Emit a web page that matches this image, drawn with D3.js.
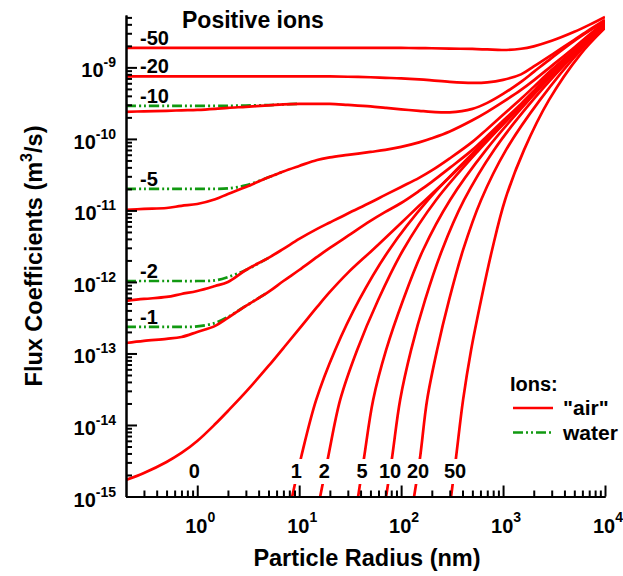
<!DOCTYPE html>
<html>
<head>
<meta charset="utf-8">
<script src="https://cdn.jsdelivr.net/npm/d3@7"></script>
<style>
  body { margin: 0; background: #fff; }
  svg { font-family: Arial, "Liberation Sans", sans-serif; font-weight: bold; }
  .air { fill: none; stroke: #ff0000; stroke-width: 2.7px; }
  .water { fill: none; stroke: #119911; stroke-width: 2.7px; stroke-dasharray: 10,3,2,3,2,3; }
  .axis path, .axis line { stroke: #000; stroke-width: 2px; }
  .axis text { display: none; }
</style>
</head>
<body>
<script>
// particle radius grid (nm) used by the negative / neutral curves
var radius = [0.2,0.3,0.5,0.7,1,1.5,2,3,5,7,10,15,20,30,50,70,100,150,200,300,500,700,1000,1500,2000,3000,5000,7000,10000];

// "air" ions, flux coefficient (m3/s) on the radius grid
var airNeg50 = [1.87e-9,1.87e-9,1.87e-9,1.87e-9,1.87e-9,1.87e-9,1.87e-9,1.87e-9,1.87e-9,1.87e-9,1.87e-9,1.87e-9,1.87e-9,1.87e-9,1.87e-9,1.87e-9,1.87e-9,
  1.86e-9,1.85e-9,1.83e-9,1.81e-9,1.78e-9,1.75e-9,1.82e-9,1.97e-9,2.35e-9,3.14e-9,3.93e-9,5.08e-9];
var airNeg20 = [7.48e-10,7.48e-10,7.48e-10,7.48e-10,7.48e-10,7.48e-10,7.48e-10,7.48e-10,7.48e-10,7.48e-10,7.48e-10,7.48e-10,7.48e-10,7.40e-10,
  7.28e-10,7.15e-10,7.02e-10,6.79e-10,6.58e-10,6.27e-10,6.07e-10,6.17e-10,6.68e-10,7.98e-10,1.03e-9,1.50e-9,2.43e-9,3.34e-9,4.61e-9];
var airNeg10 = [2.39e-10,2.43e-10,2.47e-10,2.51e-10,2.54e-10,2.63e-10,2.72e-10,2.81e-10,2.94e-10,3.04e-10,3.09e-10,3.09e-10,3.09e-10,2.99e-10,
  2.85e-10,2.72e-10,2.59e-10,2.47e-10,2.39e-10,2.35e-10,2.63e-10,3.19e-10,4.26e-10,6.27e-10,8.65e-10,1.36e-9,2.35e-9,3.24e-9,4.47e-9];
var airNeg5 = [1.02e-11,1.05e-11,1.08e-11,1.16e-11,1.23e-11,1.43e-11,1.70e-11,2.13e-11,2.90e-11,3.51e-11,4.19e-11,5.08e-11,5.51e-11,5.97e-11,
  6.58e-11,7.02e-11,7.73e-11,8.93e-11,1.02e-10,1.27e-10,1.82e-10,2.39e-10,3.29e-10,4.84e-10,6.58e-10,1.05e-9,1.90e-9,2.85e-9,4.33e-9];
var airNeg2 = [5.42e-13,5.78e-13,6.17e-13,6.79e-13,7.48e-13,8.79e-13,9.98e-13,1.47e-12,2.17e-12,2.90e-12,3.99e-12,5.51e-12,6.79e-12,9.08e-12,
  1.29e-11,1.65e-11,2.13e-11,2.85e-11,3.62e-11,5.34e-11,9.08e-11,1.38e-10,2.17e-10,3.63e-10,5.34e-10,9.23e-10,1.76e-9,2.67e-9,4.19e-9];
var airNeg1 = [1.40e-13,1.50e-13,1.60e-13,1.70e-13,2.0e-13,2.43e-13,3.14e-13,4.62e-13,7.25e-13,1.03e-12,1.47e-12,2.24e-12,2.99e-12,4.40e-12,
  7.13e-12,9.53e-12,1.27e-11,1.87e-11,2.51e-11,3.93e-11,7.02e-11,1.10e-10,1.79e-10,3.09e-10,4.69e-10,8.65e-10,1.70e-9,2.59e-9,4.19e-9];
var airZero = [1.70e-15,2.13e-15,3.04e-15,4.06e-15,5.97e-15,1.03e-14,1.57e-14,2.90e-14,6.68e-14,1.19e-13,2.20e-13,4.47e-13,7.25e-13,1.34e-12,
  2.63e-12,4.12e-12,6.68e-12,1.16e-11,1.70e-11,2.94e-11,5.97e-11,9.68e-11,1.62e-10,2.90e-10,4.40e-10,8.11e-10,1.65e-9,2.50e-9,4.06e-9];

// positive charges: [radius, flux] pairs, starting where they leave the 1e-15 floor
var airPos1 = [[8.54,1e-15],[10.46,3.57e-15],[14.68,2.24e-14],[22.54,1.12e-13],[38.75,5.60e-13],[76.29,2.80e-12],[183.9,1.40e-11],[543.6,7.02e-11],[1681,3.51e-10],[5196,1.76e-9],[10000,4.06e-9]];
var airPos2 = [[16.07,1e-15],[19.24,3.57e-15],[25.23,2.24e-14],[37.04,1.12e-13],[59.50,5.60e-13],[104.6,2.80e-12],[220.3,1.40e-11],[581.9,7.02e-11],[1719,3.51e-10],[5314,1.76e-9],[10000,3.99e-9]];
var airPos5 = [[37.88,1e-15],[43.38,3.57e-15],[53.15,2.24e-14],[71.27,1.12e-13],[104.6,5.60e-13],[164.3,2.80e-12],[302.2,1.40e-11],[681.3,7.02e-11],[1798,3.51e-10],[5314,1.76e-9],[10000,3.93e-9]];
var airPos10 = [[71.27,1e-15],[81.62,3.57e-15],[97.77,2.24e-14],[125.3,1.12e-13],[171.9,5.60e-13],[252.4,2.80e-12],[414.6,1.40e-11],[816.1,7.02e-11],[1968,3.51e-10],[5560,1.76e-9],[10000,3.87e-9]];
var airPos20 = [[134.1,1e-15],[153.6,3.57e-15],[179.8,2.24e-14],[225.4,1.12e-13],[295.5,5.60e-13],[405.3,2.80e-12],[608.7,1.40e-11],[1070,7.02e-11],[2305,3.51e-10],[5818,1.76e-9],[10000,3.74e-9]];
var airPos50 = [[309.2,1e-15],[346.1,3.57e-15],[405.3,2.24e-14],[485.8,1.12e-13],[608.7,5.60e-13],[780.2,2.80e-12],[1046,1.40e-11],[1607,7.02e-11],[2825,3.51e-10],[5686,1.50e-9],[10000,3.56e-9]];

// water ions, only where they differ from air (first points of the radius grid)
var waterNeg10 = [2.90e-10,2.90e-10,2.90e-10,2.90e-10,2.90e-10,2.90e-10,2.90e-10,2.93e-10,2.97e-10,3.04e-10,3.09e-10];
var waterNeg5 = [2.00e-11,2.00e-11,2.00e-11,2.00e-11,2.00e-11,2.00e-11,2.03e-11,2.24e-11,2.90e-11,3.51e-11];
var waterNeg2 = [1.03e-12,1.03e-12,1.03e-12,1.03e-12,1.03e-12,1.05e-12,1.17e-12,1.47e-12,2.17e-12];
var waterNeg1 = [2.35e-13,2.35e-13,2.35e-13,2.35e-13,2.39e-13,2.67e-13,3.24e-13,4.62e-13,7.25e-13];

var negCharges = ["-50","-20","-10","-5","-2","-1"];
var posCharges = ["1","2","5","10","20","50"];
var xMajor = [1,10,100,1000,10000];
var yMajor = [-15,-14,-13,-12,-11,-10,-9];

function draw_chart() {
  "use strict";
  var W = 623, H = 576;
  var svg = d3.select("body").append("svg").attr("width", W).attr("height", H);

  var x = d3.scaleLog().domain([0.2, 1e4]).range([126, 605]);
  var y = d3.scaleLog().domain([1e-15, 5.4e-9]).range([496.5, 15]);

  function onGrid(vals) { return vals.map(function(v, i) { return [radius[i], v]; }); }

  var airNeg = [airNeg50, airNeg20, airNeg10, airNeg5, airNeg2, airNeg1].map(onGrid);
  var waterNeg = [waterNeg10, waterNeg5, waterNeg2, waterNeg1].map(onGrid);
  var airPos = [airPos1, airPos2, airPos5, airPos10, airPos20, airPos50];

  var line = d3.line()
      .x(function(d) { return x(d[0]); })
      .y(function(d) { return y(d[1]); })
      .curve(d3.curveCatmullRom.alpha(0.5));

  svg.append("clipPath").attr("id", "plot")
    .append("rect").attr("x", 126).attr("y", 15).attr("width", 479).attr("height", 481.5);

  var g = svg.append("g").attr("clip-path", "url(#plot)");

  g.selectAll(".water").data(waterNeg).enter().append("path")
      .attr("class", "water").attr("d", line);
  g.selectAll(".air").data(airNeg.concat([onGrid(airZero)], airPos)).enter().append("path")
      .attr("class", "air").attr("d", line);

  // minor ticks
  var xMinor = [], yMinor = [];
  for (var d = -1; d < 4; d++) for (var k = 2; k < 10; k++) {
    var v = k * Math.pow(10, d);
    if (v > 0.2 && v < 1e4) xMinor.push(v);
  }
  for (var e = -15; e < -8; e++) for (var k2 = 2; k2 < 10; k2++) {
    var w = k2 * Math.pow(10, e);
    if (w < 5.4e-9) yMinor.push(w);
  }

  svg.append("g").attr("class", "axis").attr("transform", "translate(0,496.5)")
      .call(d3.axisBottom(x).tickValues(xMinor).tickSizeInner(-6).tickSizeOuter(0));
  svg.append("g").attr("class", "axis").attr("transform", "translate(0,496.5)")
      .call(d3.axisBottom(x).tickValues(xMajor).tickSizeInner(-11).tickSizeOuter(0));
  svg.append("g").attr("class", "axis").attr("transform", "translate(126,0)")
      .call(d3.axisLeft(y).tickValues(yMinor).tickSizeInner(-6).tickSizeOuter(0));
  svg.append("g").attr("class", "axis").attr("transform", "translate(126,0)")
      .call(d3.axisLeft(y).tickValues(yMajor.map(function(p) { return Math.pow(10, p); }))
        .tickSizeInner(-11).tickSizeOuter(0));

  // tick labels with superscripts
  xMajor.forEach(function(v) {
    var t = svg.append("text").attr("x", x(v) + 3).attr("y", 533)
        .attr("text-anchor", "middle").style("font-size", "20px");
    t.append("tspan").text("10");
    t.append("tspan").attr("dy", -11).style("font-size", "14px").text(Math.round(Math.log10(v)));
  });
  yMajor.forEach(function(p) {
    var t = svg.append("text").attr("x", 116).attr("y", y(Math.pow(10, p)) + 10)
        .attr("text-anchor", "end").style("font-size", "20px");
    t.append("tspan").text("10");
    t.append("tspan").attr("dy", -10).style("font-size", "14px").text(p);
  });

  // axis titles
  svg.append("text").attr("x", 367).attr("y", 566).attr("text-anchor", "middle")
      .style("font-size", "23.5px").text("Particle Radius (nm)");
  var yt = svg.append("text").attr("transform", "translate(42,256) rotate(-90)")
      .attr("text-anchor", "middle").style("font-size", "23.5px");
  yt.append("tspan").text("Flux Coefficients (m");
  yt.append("tspan").attr("dy", -10).style("font-size", "16px").text("3");
  yt.append("tspan").attr("dy", 10).text("/s)");

  svg.append("text").attr("x", 182).attr("y", 28).style("font-size", "23px").text("Positive ions");

  // curve labels: negative ones sit just above the top curve of each pair
  var topStart = [airNeg50[0], airNeg20[0], waterNeg10[0], waterNeg5[0], waterNeg2[0], waterNeg1[0]];
  negCharges.forEach(function(c, i) {
    svg.append("text").attr("x", 140).attr("y", y(topStart[i]) - 3)
        .style("font-size", "20px").text(c);
  });

  svg.append("text").attr("x", x(1) - 3).attr("y", 478).attr("text-anchor", "middle")
      .style("font-size", "20px").text("0");

  posCharges.forEach(function(c, i) {
    var lg = svg.append("g");
    var t = lg.append("text").attr("x", x(airPos[i][0][0]) + 4).attr("y", 478)
        .attr("text-anchor", "middle").style("font-size", "20px").text(c);
    var bb = t.node().getBBox();
    lg.insert("rect", "text").attr("x", bb.x - 2).attr("y", 459)
        .attr("width", bb.width + 4).attr("height", 25).attr("fill", "#fff");
  });

  // legend
  svg.append("text").attr("x", 510).attr("y", 391).style("font-size", "20px").text("Ions:");
  svg.append("line").attr("class", "air").attr("x1", 513).attr("x2", 553).attr("y1", 408).attr("y2", 408);
  svg.append("text").attr("x", 563).attr("y", 415).style("font-size", "21px").text("\"air\"");
  svg.append("line").attr("class", "water").attr("x1", 513).attr("x2", 553).attr("y1", 432.5).attr("y2", 432.5);
  svg.append("text").attr("x", 563).attr("y", 439.5).style("font-size", "21px").text("water");
}

draw_chart();
</script>
</body>
</html>
